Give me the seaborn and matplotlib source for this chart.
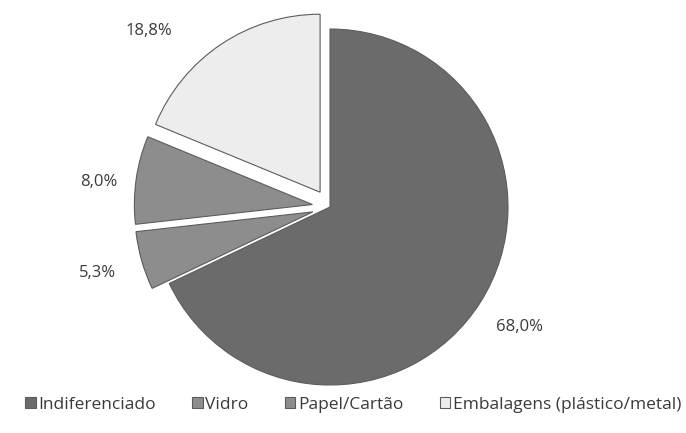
import matplotlib
matplotlib.use("Agg")
import matplotlib.pyplot as plt
import seaborn as sns

# data
categorias = ['Indiferenciado', 'Vidro', 'Papel/Cartão', 'Embalagens (plástico/metal)']
valores = [68.0, 5.3, 8.0, 18.8]
cores = ['#6b6b6b', '#8d8d8d', '#8d8d8d', '#ededed']
afastar = [0.0, 0.1, 0.1, 0.1]

sns.set_theme(style="white")
plt.rcParams['font.family'] = ['Open Sans', 'DejaVu Sans']

fig = plt.figure(figsize=(6.86, 4.33), dpi=100)
ax = fig.add_axes([0, 0, 1, 1])

wedges, texts, autotexts = ax.pie(
    valores, colors=cores, explode=afastar, startangle=90, counterclock=False,
    autopct='%1.1f%%', pctdistance=1.26,
    wedgeprops=dict(edgecolor='#5c5c5c', linewidth=0.8),
    textprops=dict(fontsize=12, color='#3a3a3a'))

# show the values as given (comma decimal)
for t, v in zip(autotexts, valores):
    t.set_text(f"{v:.1f}%".replace('.', ','))

# Embalagens label sits more to the left in the original
x, y = autotexts[3].get_position()
autotexts[3].set_position((x - 0.26, y - 0.14))
x, y = autotexts[2].get_position()
autotexts[2].set_position((x + 0.05, y - 0.05))

# pie center ~ (330, 207) px, radius ~178 px
r = 178
ax.set_xlim(-330 / r, (686 - 330) / r)
ax.set_ylim(-(433 - 207) / r, 207 / r)
ax.set_aspect('auto')
ax.axis('off')

leg = fig.legend(wedges, categorias, loc='center', bbox_to_anchor=(0.515, 0.065),
                 ncol=4, frameon=False, fontsize=12.5,
                 handlelength=0.6, handleheight=0.6, handletextpad=0.15,
                 columnspacing=2.1)
for t in leg.get_texts():
    t.set_color('#3a3a3a')

fig.savefig('out.png', dpi=100)
